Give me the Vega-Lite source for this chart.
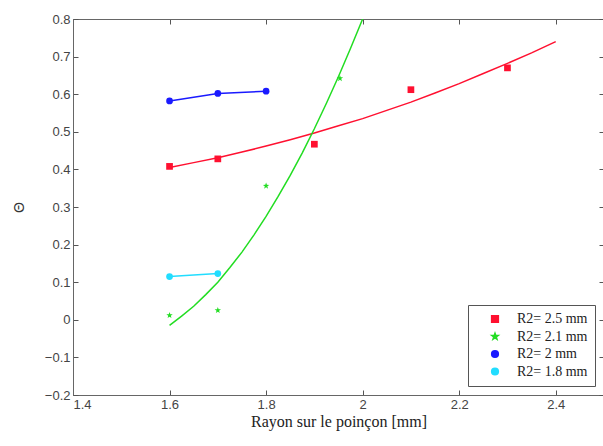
{
  "$schema": "https://vega.github.io/schema/vega-lite/v6.json",
  "width": 531,
  "height": 376,
  "autosize": "none",
  "padding": {"left": 73, "top": 19, "right": 0, "bottom": 51},
  "background": "white",
  "config": {
    "view": {"stroke": "#666", "strokeWidth": 1},
    "axis": {
      "labelFont": "Liberation Sans",
      "labelFontSize": 13,
      "labelColor": "#444",
      "domainColor": "#666",
      "tickColor": "#555",
      "ticks": true,
      "tickWidth": 1,
      "grid": false,
      "labelOverlap": false,
      "zindex": 1
    }
  },
  "datasets": {
    "pts": [
      {"series": "R2= 2.5 mm", "x": 1.6, "y": 0.408},
      {"series": "R2= 2.5 mm", "x": 1.7, "y": 0.428},
      {"series": "R2= 2.5 mm", "x": 1.9, "y": 0.467},
      {"series": "R2= 2.5 mm", "x": 2.1, "y": 0.612},
      {"series": "R2= 2.5 mm", "x": 2.3, "y": 0.67},
      {"series": "R2= 2.1 mm", "x": 1.6, "y": 0.012},
      {"series": "R2= 2.1 mm", "x": 1.7, "y": 0.025},
      {"series": "R2= 2.1 mm", "x": 1.8, "y": 0.356},
      {"series": "R2= 2.1 mm", "x": 1.953, "y": 0.642},
      {"series": "R2= 2 mm", "x": 1.6, "y": 0.582},
      {"series": "R2= 2 mm", "x": 1.7, "y": 0.602},
      {"series": "R2= 2 mm", "x": 1.8, "y": 0.608},
      {"series": "R2= 1.8 mm", "x": 1.6, "y": 0.115},
      {"series": "R2= 1.8 mm", "x": 1.7, "y": 0.123}
    ],
    "fit": [
      {"series": "R2= 2.5 mm", "x": 1.6, "y": 0.405},
      {"series": "R2= 2.5 mm", "x": 1.65, "y": 0.418},
      {"series": "R2= 2.5 mm", "x": 1.7, "y": 0.431},
      {"series": "R2= 2.5 mm", "x": 1.75, "y": 0.446},
      {"series": "R2= 2.5 mm", "x": 1.8, "y": 0.462},
      {"series": "R2= 2.5 mm", "x": 1.85, "y": 0.479},
      {"series": "R2= 2.5 mm", "x": 1.9, "y": 0.497},
      {"series": "R2= 2.5 mm", "x": 1.95, "y": 0.516},
      {"series": "R2= 2.5 mm", "x": 2.0, "y": 0.535},
      {"series": "R2= 2.5 mm", "x": 2.05, "y": 0.557},
      {"series": "R2= 2.5 mm", "x": 2.1, "y": 0.579},
      {"series": "R2= 2.5 mm", "x": 2.15, "y": 0.603},
      {"series": "R2= 2.5 mm", "x": 2.2, "y": 0.628},
      {"series": "R2= 2.5 mm", "x": 2.25, "y": 0.655},
      {"series": "R2= 2.5 mm", "x": 2.3, "y": 0.682},
      {"series": "R2= 2.5 mm", "x": 2.35, "y": 0.71},
      {"series": "R2= 2.5 mm", "x": 2.4, "y": 0.74},
      {"series": "R2= 2.1 mm", "x": 1.6, "y": -0.015},
      {"series": "R2= 2.1 mm", "x": 1.625, "y": 0.01},
      {"series": "R2= 2.1 mm", "x": 1.65, "y": 0.036},
      {"series": "R2= 2.1 mm", "x": 1.675, "y": 0.067},
      {"series": "R2= 2.1 mm", "x": 1.7, "y": 0.1},
      {"series": "R2= 2.1 mm", "x": 1.725, "y": 0.139},
      {"series": "R2= 2.1 mm", "x": 1.75, "y": 0.18},
      {"series": "R2= 2.1 mm", "x": 1.775, "y": 0.226},
      {"series": "R2= 2.1 mm", "x": 1.8, "y": 0.275},
      {"series": "R2= 2.1 mm", "x": 1.825, "y": 0.328},
      {"series": "R2= 2.1 mm", "x": 1.85, "y": 0.384},
      {"series": "R2= 2.1 mm", "x": 1.875, "y": 0.444},
      {"series": "R2= 2.1 mm", "x": 1.9, "y": 0.508},
      {"series": "R2= 2.1 mm", "x": 1.925, "y": 0.576},
      {"series": "R2= 2.1 mm", "x": 1.95, "y": 0.647},
      {"series": "R2= 2.1 mm", "x": 1.975, "y": 0.722},
      {"series": "R2= 2.1 mm", "x": 2.0, "y": 0.8},
      {"series": "R2= 2 mm", "x": 1.6, "y": 0.582},
      {"series": "R2= 2 mm", "x": 1.7, "y": 0.602},
      {"series": "R2= 2 mm", "x": 1.8, "y": 0.608},
      {"series": "R2= 1.8 mm", "x": 1.6, "y": 0.115},
      {"series": "R2= 1.8 mm", "x": 1.7, "y": 0.123}
    ]
  },
  "resolve": {"axis": {"x": "independent", "y": "independent"}},
  "layer": [
    {
      "data": {"name": "fit"},
      "mark": {"type": "line", "strokeWidth": 1.5, "clip": true},
      "encoding": {
        "x": {"field": "x", "type": "quantitative", "scale": {"domain": [1.4, 2.5], "nice": false},
          "axis": {"values": [1.4, 1.6, 1.8, 2.0, 2.2, 2.4], "format": "~g", "title": "Rayon sur le poinçon [mm]",
            "titleFont": "Liberation Serif", "titleFontSize": 16, "titleFontWeight": "normal", "titleColor": "#222",
            "titlePadding": 2, "tickSize": -5, "labelPadding": 8}},
        "y": {"field": "y", "type": "quantitative", "scale": {"domain": [-0.2, 0.8], "nice": false},
          "axis": {"values": [-0.2, -0.1, 0, 0.1, 0.2, 0.3, 0.4, 0.5, 0.6, 0.7, 0.8], "format": "~g", "title": "Θ",
            "titleFont": "Liberation Sans", "titleFontSize": 14, "titleFontWeight": "normal", "titleColor": "#333",
            "titlePadding": 18, "tickSize": -5, "labelPadding": 8}},
        "color": {"field": "series", "type": "nominal",
          "scale": {"domain": ["R2= 2.5 mm", "R2= 2.1 mm", "R2= 2 mm", "R2= 1.8 mm"],
            "range": ["#ff1030", "#22dd22", "#1a1aff", "#22ddff"]}},
        "detail": {"field": "series"}
      }
    },
    {
      "data": {"name": "pts"},
      "mark": {"type": "point", "filled": true, "opacity": 1},
      "encoding": {
        "x": {"field": "x", "type": "quantitative",
          "axis": {"orient": "top", "values": [1.4, 1.6, 1.8, 2.0, 2.2, 2.4], "labels": false, "title": null, "tickSize": -5}},
        "y": {"field": "y", "type": "quantitative",
          "axis": {"orient": "right", "values": [-0.2, -0.1, 0, 0.1, 0.2, 0.3, 0.4, 0.5, 0.6, 0.7, 0.8], "labels": false, "title": null, "tickSize": -5}},
        "color": {"field": "series", "type": "nominal",
          "legend": {"orient": "none", "legendX": 395, "legendY": 286, "title": null,
            "labelFont": "Liberation Serif", "labelFontSize": 14, "labelColor": "#222",
            "strokeColor": "#555", "fillColor": "white", "padding": 7, "symbolSize": 45, "symbolOffset": 13,
            "rowPadding": 3.5, "labelOffset": 15}},
        "shape": {"field": "series", "type": "nominal",
          "scale": {"domain": ["R2= 2.5 mm", "R2= 2.1 mm", "R2= 2 mm", "R2= 1.8 mm"],
            "range": ["square", "M0,-1L0.24,-0.33L0.95,-0.31L0.38,0.12L0.59,0.81L0,0.4L-0.59,0.81L-0.38,0.12L-0.95,-0.31L-0.24,-0.33Z", "circle", "circle"]}},
        "size": {"field": "series", "type": "nominal",
          "scale": {"domain": ["R2= 2.5 mm", "R2= 2.1 mm", "R2= 2 mm", "R2= 1.8 mm"], "range": [45, 45, 70, 20]}, "legend": null}
      }
    }
  ]
}
